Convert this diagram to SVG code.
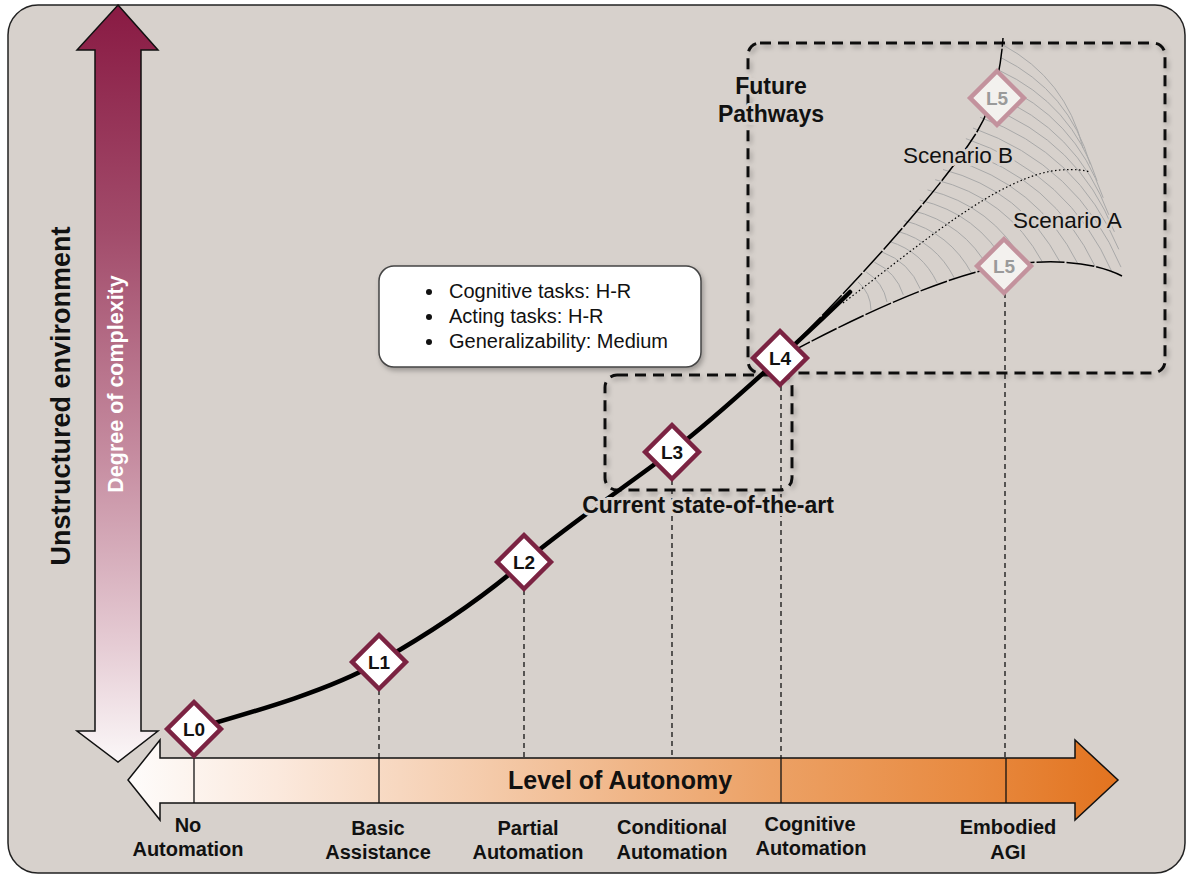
<svg xmlns="http://www.w3.org/2000/svg" width="1186" height="880" viewBox="0 0 1186 880">
<defs>
<linearGradient id="gv" x1="0" y1="5" x2="0" y2="762" gradientUnits="userSpaceOnUse">
<stop offset="0" stop-color="#891a43"/>
<stop offset="0.3" stop-color="#a24c6b"/>
<stop offset="0.6" stop-color="#c68da1"/>
<stop offset="0.85" stop-color="#e6cdd5"/>
<stop offset="1" stop-color="#fbf7f8"/>
</linearGradient>
<linearGradient id="gh" x1="128" y1="0" x2="1118" y2="0" gradientUnits="userSpaceOnUse">
<stop offset="0" stop-color="#fefcfb"/>
<stop offset="0.15" stop-color="#fbe9dd"/>
<stop offset="0.4" stop-color="#f3c5a1"/>
<stop offset="0.65" stop-color="#eca165"/>
<stop offset="0.85" stop-color="#e88a40"/>
<stop offset="1" stop-color="#e2731f"/>
</linearGradient>
<filter id="sh" x="-10%" y="-10%" width="120%" height="125%">
<feDropShadow dx="2" dy="3" stdDeviation="2.5" flood-color="#000" flood-opacity="0.28"/>
</filter>
<style>
.t{font-family:"Liberation Sans",Arial,Helvetica,sans-serif;fill:#111}
.b{font-weight:bold}
.halo{paint-order:stroke;stroke:#d7d1cc;stroke-width:6px;stroke-linejoin:round}
.lab{font-size:20px;font-weight:bold;text-anchor:middle}
.dia{fill:#fff;stroke:#7b2342;stroke-width:4.5}
.dia5{fill:#f3f1ee;stroke:#c3929d;stroke-width:4.5}
.dl{font-family:"Liberation Sans",Arial,sans-serif;font-weight:bold;font-size:19px;text-anchor:middle;fill:#111}
.dl5{fill:#9a9a9a}
.dash{fill:none;stroke:#111;stroke-width:1.3;stroke-dasharray:5 4}
.box{fill:none;stroke:#111;stroke-width:3;stroke-dasharray:11 7}
.tick{stroke:#111;stroke-width:1.3}
</style>
</defs>

<rect id="background" x="8" y="5" width="1177" height="868" rx="30" fill="#d7d1cc" stroke="#222" stroke-width="1.5"/>

<g id="axis-vertical">
<polygon points="118,5 158,50 141,50 141,731 158,731 118,762 77,731 95,731 95,50 77,50" fill="url(#gv)" stroke="#111" stroke-width="1.5" stroke-linejoin="miter"/>
<text class="t b" font-size="21.5" style="fill:#fff" text-anchor="middle" transform="translate(122.5,384) rotate(-90)">Degree of complexity</text>
</g>
<text id="label-unstructured" class="t b" font-size="27" text-anchor="middle" transform="translate(70,396) rotate(-90)">Unstructured environment</text>

<g id="axis-horizontal">
<polygon points="128,780 160,740 160,758 1075,758 1075,740 1118,780 1075,820 1075,803 160,803 160,820" fill="url(#gh)" stroke="#111" stroke-width="1.5"/>
<line class="tick" x1="194" y1="758" x2="194" y2="803"/>
<line class="tick" x1="379" y1="758" x2="379" y2="803"/>
<line class="tick" x1="781" y1="758" x2="781" y2="803"/>
<line class="tick" x1="1006" y1="758" x2="1006" y2="803"/>
<text class="t b" font-size="25" x="620" y="789" text-anchor="middle">Level of Autonomy</text>
</g>

<g id="group-future" filter="url(#sh)">
<rect class="box" x="748" y="43" width="417" height="330" rx="12"/>
</g>
<g id="group-current" filter="url(#sh)">
<rect class="box" x="605" y="375" width="187" height="115" rx="12"/>
</g>

<g id="info-box">
<rect x="379" y="266" width="322" height="101" rx="15" fill="#fff" stroke="#444" stroke-width="1.5" filter="url(#sh)"/>
<circle cx="429" cy="292" r="3" fill="#111"/>
<circle cx="429" cy="317" r="3" fill="#111"/>
<circle cx="429" cy="342" r="3" fill="#111"/>
<text class="t" font-size="20" x="449" y="298">Cognitive tasks: H-R</text>
<text class="t" font-size="20" x="449" y="323">Acting tasks: H-R</text>
<text class="t" font-size="20" x="449" y="348">Generalizability: Medium</text>
</g>

<g id="hatch" fill="none" stroke="#a9a9a9" stroke-width="1">
<path d="M1003,45 Q1065.7,78.9 1083,148 M1001.1,57.7 Q1069.2,91.4 1090.3,164.4 M999.2,70.4 Q1072.5,104.2 1097.1,180.9 M997.3,83.1 Q1075.5,117.2 1103.2,197.8 M992.3,94.8 Q1077,129.2 1108.8,214.8 M986.7,106.4 Q1078.2,141 1114.4,231.8 M980.1,117.3 Q1078.5,152.8 1118.8,249.3 M973,128 Q1077.6,165 1121,267.1 M965.9,138.6 Q1068.8,173.5 1112.5,273 M958.4,149.1 Q1052.8,177.9 1095.4,266.9 M950.7,159.3 Q1037.3,183.6 1077.9,263.8 M943,169.5 Q1021.9,190.1 1060,262 M935.2,179.7 Q1006.9,197.2 1042.3,261.8 M927.5,189.9 Q992.2,205.5 1024.5,263.7 M919.8,200.1 Q977.7,213.7 1006.7,265.5 M912,210.4 Q963.7,223 989.3,269.5 M904.4,220.7 Q949.9,232.5 972,274 M897,231.1 Q936.2,242.1 954.5,278.4 M889.6,241.5 Q922.5,251.8 937.2,283 M882.1,252 Q909.3,262.1 920.3,288.9 M874.3,262.1 Q896,272.1 903.3,294.8 M866.2,272 Q883.2,282.4 887,302 M858.1,282 Q870.8,293.2 871,310"/>
</g>

<g id="connectors" fill="none">
<path d="M194,729 C260,710 330,690 379,662 C430,633 480,600 524,562 C575,520 625,487 671,452 C715,418 750,385 780,358 C805,335 830,312 850,292" stroke="#000" stroke-width="4.5" stroke-linecap="round"/>
<path d="M780,358 C850,290 940,190 975,135 C990,112 1000,80 1003,38" stroke="#000" stroke-width="1.5" stroke-dasharray="28 2"/>
<path d="M785,355 C860,315 940,278 1002,266 C1045,259 1090,260 1122,276" stroke="#000" stroke-width="1.5" stroke-dasharray="28 2"/>
<path d="M843,303 C920,245 1000,175 1060,170 C1075,169 1085,170 1090,172" stroke="#000" stroke-width="1.2" stroke-dasharray="1.5 2.5"/>
<line class="dash" x1="379" y1="690" x2="379" y2="758"/>
<line class="dash" x1="524" y1="590" x2="524" y2="758"/>
<line class="dash" x1="672" y1="480" x2="672" y2="758"/>
<line class="dash" x1="781" y1="386" x2="781" y2="758"/>
<line class="dash" x1="1005" y1="293" x2="1005" y2="758"/>
</g>

<g id="node-L0" transform="translate(194,729)"><rect class="dia" x="-19" y="-19" width="38" height="38" transform="rotate(45)"/><text class="dl" y="6.8">L0</text></g>
<g id="node-L1" transform="translate(379,662)"><rect class="dia" x="-19" y="-19" width="38" height="38" transform="rotate(45)"/><text class="dl" y="6.8">L1</text></g>
<g id="node-L2" transform="translate(524,562)"><rect class="dia" x="-19" y="-19" width="38" height="38" transform="rotate(45)"/><text class="dl" y="6.8">L2</text></g>
<g id="node-L3" transform="translate(672,452)"><rect class="dia" x="-19" y="-19" width="38" height="38" transform="rotate(45)"/><text class="dl" y="6.8">L3</text></g>
<g id="node-L4" transform="translate(780,358)"><rect class="dia" x="-19" y="-19" width="38" height="38" transform="rotate(45)"/><text class="dl" y="6.8">L4</text></g>
<g id="node-L5-B" transform="translate(997,98)"><rect class="dia5" x="-19" y="-19" width="38" height="38" transform="rotate(45)"/><text class="dl dl5" y="6.8">L5</text></g>
<g id="node-L5-A" transform="translate(1004,266)"><rect class="dia5" x="-19" y="-19" width="38" height="38" transform="rotate(45)"/><text class="dl dl5" y="6.8">L5</text></g>

<g id="labels">
<text class="t b halo" font-size="23" text-anchor="middle" x="771" y="94">Future</text>
<text class="t b halo" font-size="23" text-anchor="middle" x="771" y="122">Pathways</text>
<text class="t halo" font-size="22.5" x="903" y="163">Scenario B</text>
<text class="t halo" font-size="22.5" x="1013" y="228" style="stroke-width:4px">Scenario A</text>
<text class="t b halo" font-size="23" text-anchor="middle" x="708" y="513">Current state-of-the-art</text>
<text class="t lab" x="188" y="832">No</text>
<text class="t lab" x="188" y="856">Automation</text>
<text class="t lab" x="378" y="835">Basic</text>
<text class="t lab" x="378" y="859">Assistance</text>
<text class="t lab" x="528" y="835">Partial</text>
<text class="t lab" x="528" y="859">Automation</text>
<text class="t lab" x="672" y="834">Conditional</text>
<text class="t lab" x="672" y="859">Automation</text>
<text class="t lab" x="810" y="831">Cognitive</text>
<text class="t lab" x="811" y="855">Automation</text>
<text class="t lab" x="1008" y="834">Embodied</text>
<text class="t lab" x="1008" y="859">AGI</text>
</g>
</svg>
